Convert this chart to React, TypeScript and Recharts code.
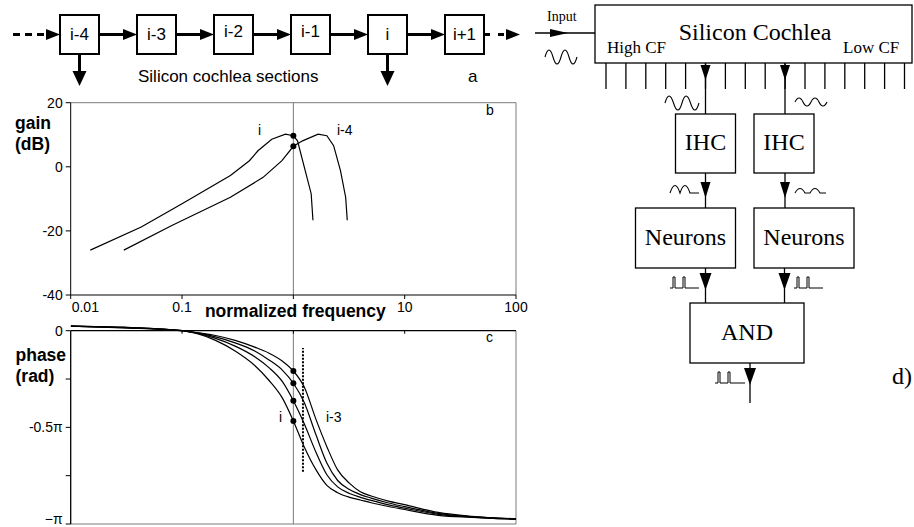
import React from 'react';
import { LineChart, Line, XAxis, YAxis, ReferenceLine } from 'recharts';

const SANS = '"Liberation Sans", Arial, sans-serif';
const SERIF = '"Liberation Serif", "Times New Roman", serif';
const GRID_GREY = '#7a7a7a';

// shared frequency axis (normalized, log)
const FREQ_TICKS = [0.01, 0.1, 1, 10, 100];
const FREQ_LABELS = ['0.01', '0.1', 'normalized frequency', '10', '100'];

// panel b: gain (dB)
const GAIN_TICKS = [-40, -20, 0, 20];
const gainIFreq = [0.015, 0.043, 0.1, 0.272, 0.403, 0.481, 0.64, 0.849, 1, 1.09, 1.256, 1.446, 1.5];
const gainIDb = [-26, -18.8, -11.5, -2.7, 1.9, 5, 8.6, 10.2, 9.7, 8.1, -0.2, -8.4, -16.7];
const gainI4Freq = [0.03, 0.081, 0.272, 0.535, 0.79, 1, 1.21, 1.67, 2.0, 2.3, 2.65, 2.95, 3.05];
const gainI4Db = [-26, -18.3, -9.5, -3.3, 1.9, 6.4, 8.1, 10.2, 9.7, 6.6, -1.2, -9.5, -16.7];

// panel c: phase, in units of pi
const PHASE_TICKS = [-1, -0.75, -0.5, -0.25, 0];
const PHASE_LABELS = ['\u2212\u03c0', '', '-0.5\u03c0', '', '0'];
const phaseFreq = [0.01, 0.03, 0.1, 0.2, 0.3, 0.45, 0.6, 0.8, 1, 1.25, 1.6, 2, 2.5, 3.2, 4, 5, 7, 10, 20, 40, 100];
const phaseI = [0.024, 0.015, 0, -0.05, -0.105, -0.18, -0.255, -0.35, -0.467, -0.6, -0.72, -0.8, -0.838, -0.862, -0.876, -0.89, -0.908, -0.925, -0.955, -0.966, -0.975];
const phaseI1 = [0.024, 0.016, 0, -0.04, -0.08, -0.135, -0.19, -0.265, -0.362, -0.48, -0.63, -0.745, -0.808, -0.842, -0.862, -0.878, -0.9, -0.918, -0.95, -0.964, -0.975];
const phaseI2 = [0.024, 0.017, 0, -0.032, -0.063, -0.105, -0.15, -0.205, -0.272, -0.37, -0.54, -0.685, -0.775, -0.822, -0.848, -0.866, -0.89, -0.91, -0.945, -0.962, -0.974];
const phaseI3 = [0.024, 0.018, 0, -0.025, -0.05, -0.085, -0.115, -0.158, -0.2085, -0.29, -0.46, -0.6, -0.72, -0.79, -0.833, -0.855, -0.88, -0.9, -0.94, -0.96, -0.973];
const PHASE_KEYS = ['i', 'i1', 'i2', 'i3'];

// dotted marker line in panel c
const MARK_FREQ = 1.22;
const MARK_RANGE = [-0.73, -0.09];

const gainI = gainIFreq.map((f, k) => ({ f, g: gainIDb[k] }));
const gainI4 = gainI4Freq.map((f, k) => ({ f, g: gainI4Db[k] }));
const phaseRows = phaseFreq.map((f, k) => ({ f, i: phaseI[k], i1: phaseI1[k], i2: phaseI2[k], i3: phaseI3[k] }));

const dotAtOne = (props: any) => {
  const { cx, cy, payload, index } = props;
  if (payload.f !== 1) return <g key={index} />;
  return <circle key={index} cx={cx} cy={cy} r={3} fill="#000" />;
};

const FreqTick = (props: any) => {
  const { x, y, index } = props;
  const label = FREQ_LABELS[index];
  if (index === 2) {
    return (
      <text x={x + 2} y={y + 15.7} textAnchor="middle" fontFamily={SANS} fontWeight="bold" fontSize={17.5} fill="#000">
        {label}
      </text>
    );
  }
  return (
    <text x={index === 0 ? x + 1 : x} y={y + 10.7} textAnchor={index === 0 ? 'start' : 'middle'} fontFamily={SANS} fontSize={14} fill="#000">
      {label}
    </text>
  );
};

const PhaseTick = (props: any) => {
  const { x, y, payload } = props;
  const v = payload.value;
  // the bottom label sits just above the frame edge
  const shift = v === -1 ? -5 : 0;
  return (
    <text x={x} y={y + shift} dy="0.355em" textAnchor="end" fontFamily={SANS} fontSize={14} fill="#000">
      {PHASE_LABELS[PHASE_TICKS.indexOf(v)]}
    </text>
  );
};

const HArrow = ({ x1, x2, y, dash }: { x1: number; x2: number; y: number; dash?: string }) => (
  <g>
    <line x1={x1} y1={y} x2={x2 - 13} y2={y} stroke="#000" strokeWidth={3} strokeDasharray={dash} />
    <polygon points={`${x2 - 14},${y - 5.5} ${x2},${y} ${x2 - 14},${y + 5.5}`} fill="#000" />
  </g>
);

const DArrow = ({ x, y1, y2, h1, h2, w = 5 }: { x: number; y1: number; y2: number; h1: number; h2: number; w?: number }) => (
  <g>
    <line x1={x} y1={y1} x2={x} y2={y2} stroke="#000" strokeWidth={1.3} />
    <polygon points={`${x - w},${h1} ${x + w},${h1} ${x},${h2}`} fill="#000" />
  </g>
);

const Box = ({ x, y, w, h, label, ty }: { x: number; y: number; w: number; h: number; label: string; ty: number }) => (
  <g>
    <rect x={x} y={y} width={w} height={h} fill="#fff" stroke="#000" strokeWidth={1.3} />
    <text x={x + w / 2} y={ty} textAnchor="middle" fontFamily={SERIF} fontSize={24}>{label}</text>
  </g>
);

const SECTIONS = ['i-4', 'i-3', 'i-2', 'i-1', 'i', 'i+1'];

function Diagrams() {
  const bx = (k: number) => 60 + k * 77;
  return (
    <svg width={914} height={527} style={{ position: 'absolute', left: 0, top: 0, pointerEvents: 'none' }}>
      {/* a: chain of cochlea sections */}
      <HArrow x1={13} x2={60} y={34.5} dash="7 5" />
      {SECTIONS.map((s, k) => (
        <g key={s}>
          <rect x={bx(k)} y={15} width={39} height={39} fill="#fff" stroke="#000" strokeWidth={2} />
          <text x={bx(k) + 19.5} y={k === 2 || k === 3 ? 37 : 40} textAnchor="middle" fontFamily={SANS} fontSize={17}>{s}</text>
          {k < SECTIONS.length - 1 && <HArrow x1={bx(k) + 39} x2={bx(k + 1)} y={34.5} />}
        </g>
      ))}
      <HArrow x1={484} x2={520} y={34.5} dash="6 8" />
      {[0, 4].map((k) => (
        <g key={k}>
          <line x1={bx(k) + 19.5} y1={54} x2={bx(k) + 19.5} y2={72} stroke="#000" strokeWidth={3} />
          <polygon points={`${bx(k) + 12.5},71 ${bx(k) + 26.5},71 ${bx(k) + 19.5},86`} fill="#000" />
        </g>
      ))}
      <text x={138} y={82} fontFamily={SANS} fontSize={17}>Silicon cochlea sections</text>
      <text x={468} y={82} fontFamily={SANS} fontSize={17}>a</text>

      {/* panel annotations */}
      <text x={15} y={129} fontFamily={SANS} fontWeight="bold" fontSize={17.5}>gain</text>
      <text x={15} y={150} fontFamily={SANS} fontWeight="bold" fontSize={17.5}>(dB)</text>
      <text x={258} y={135} fontFamily={SANS} fontSize={14}>i</text>
      <text x={337} y={135} fontFamily={SANS} fontSize={14}>i-4</text>
      <text x={486} y={115} fontFamily={SANS} fontSize={14}>b</text>
      <text x={15.5} y={361} fontFamily={SANS} fontWeight="bold" fontSize={17.5}>phase</text>
      <text x={15.5} y={382} fontFamily={SANS} fontWeight="bold" fontSize={17.5}>(rad)</text>
      <text x={279} y={422} fontFamily={SANS} fontSize={14}>i</text>
      <text x={326} y={422} fontFamily={SANS} fontSize={14}>i-3</text>
      <text x={486} y={342} fontFamily={SANS} fontSize={14}>c</text>

      {/* d: block diagram */}
      <text x={547} y={21} fontFamily={SERIF} fontSize={14}>Input</text>
      <line x1={535} y1={33} x2={595} y2={33} stroke="#000" strokeWidth={1.3} />
      <polygon points="550,29 568,33 550,37" fill="#000" />
      <path d="M545,57 Q549,43 553,57 T561,57 T569,57 T577,57" fill="none" stroke="#000" strokeWidth={1.1} />
      <rect x={595} y={5} width={317} height={58} fill="#fff" stroke="#000" strokeWidth={1.3} />
      <text x={755} y={40} textAnchor="middle" fontFamily={SERIF} fontSize={24}>Silicon Cochlea</text>
      <text x={607} y={53} fontFamily={SERIF} fontSize={17}>High CF</text>
      <text x={843} y={53} fontFamily={SERIF} fontSize={17}>Low CF</text>
      {Array.from({ length: 16 }, (_, k) => (
        <line key={k} x1={606 + k * 19.9} y1={63} x2={606 + k * 19.9} y2={89} stroke="#000" strokeWidth={1.3} />
      ))}
      <DArrow x={705.5} y1={63} y2={114} h1={65} h2={80} />
      <DArrow x={785} y1={63} y2={114} h1={65} h2={80} />
      <path d="M665,103 Q669,89 673.5,103 T682,103 T690.5,103 T699,103" fill="none" stroke="#000" strokeWidth={1.1} />
      <path d="M795,102 Q799,94 803,102 T811,102 T819,102 T827,102" fill="none" stroke="#000" strokeWidth={1.1} />
      <Box x={675.5} y={114} w={60} h={59} label="IHC" ty={150} />
      <Box x={754} y={114} w={60} h={59} label="IHC" ty={150} />
      <DArrow x={705.5} y1={173} y2={208} h1={182} h2={198} />
      <DArrow x={785} y1={173} y2={208} h1={182} h2={198} />
      <path d="M670,193 Q675,178 680,193 Q685,178 690,193 L699,193" fill="none" stroke="#000" strokeWidth={1.1} />
      <path d="M795,193 Q800,184 805,193 L810,193 Q815,184 820,193 L826,193" fill="none" stroke="#000" strokeWidth={1.1} />
      <Box x={635.5} y={208} w={100} h={60} label="Neurons" ty={245} />
      <Box x={754} y={208} w={100} h={60} label="Neurons" ty={245} />
      <DArrow x={705.5} y1={268} y2={303} h1={273} h2={290} w={6} />
      <DArrow x={784.5} y1={268} y2={303} h1={273} h2={290} w={6} />
      <path d="M670,288 L673,288 L673,277 L675,277 L675,288 L683,288 L683,277 L685,277 L685,288 L699,288" fill="none" stroke="#000" strokeWidth={1} />
      <path d="M794,288 L797,288 L797,277 L799,277 L799,288 L807,288 L807,277 L809,277 L809,288 L823,288" fill="none" stroke="#000" strokeWidth={1} />
      <Box x={690} y={303} w={114} h={60} label="AND" ty={340} />
      <DArrow x={750} y1={363} y2={403} h1={368} h2={385} w={6} />
      <path d="M715,383 L718,383 L718,372 L720,372 L720,383 L728,383 L728,372 L730,372 L730,383 L745,383" fill="none" stroke="#000" strokeWidth={1} />
      <text x={892} y={384} fontFamily={SERIF} fontSize={24}>d)</text>
    </svg>
  );
}

export default function App() {
  return (
    <div style={{ position: 'absolute', left: 0, top: 0, width: 914, height: 527, background: '#fff', overflow: 'hidden' }}>
      {/* b: gain */}
      <div style={{ position: 'absolute', left: 0, top: 90 }}>
        <LineChart width={540} height={240} margin={{ top: 12.7, right: 24, bottom: 5, left: 0 }}>
          <XAxis type="number" dataKey="f" scale="log" domain={[0.01, 100]} allowDataOverflow ticks={FREQ_TICKS}
            tick={<FreqTick />} tickSize={4} height={30} stroke="#000" interval={0} />
          <YAxis type="number" domain={[-40, 20]} allowDataOverflow ticks={GAIN_TICKS} width={70.7} tickSize={5} tickMargin={3}
            stroke="#000" tick={{ fontSize: 14, fill: '#000', fontFamily: SANS }} interval={0} />
          <ReferenceLine y={20} stroke={GRID_GREY} />
          <ReferenceLine x={100} stroke={GRID_GREY} />
          <ReferenceLine x={1} stroke={GRID_GREY} />
          <Line data={gainI} dataKey="g" type="linear" stroke="#000" strokeWidth={1.2} dot={dotAtOne} activeDot={false} isAnimationActive={false} />
          <Line data={gainI4} dataKey="g" type="linear" stroke="#000" strokeWidth={1.2} dot={dotAtOne} activeDot={false} isAnimationActive={false} />
        </LineChart>
      </div>

      {/* c: phase */}
      <div style={{ position: 'absolute', left: 0, top: 310 }}>
        <LineChart width={540} height={225} data={phaseRows} margin={{ top: 14.9, right: 24, bottom: 11, left: 0 }}>
          <XAxis type="number" dataKey="f" scale="log" domain={[0.01, 100]} allowDataOverflow hide />
          <YAxis type="number" domain={[-1, 0.03]} allowDataOverflow ticks={PHASE_TICKS} width={70.7} tickSize={5} tickMargin={3}
            axisLine={false} tickLine={{ stroke: '#000' }} tick={<PhaseTick />} interval={0} />
          <ReferenceLine y={-1} stroke={GRID_GREY} />
          <ReferenceLine segment={[{ x: 100, y: -1 }, { x: 100, y: 0 }]} stroke={GRID_GREY} />
          <ReferenceLine segment={[{ x: 1, y: -1 }, { x: 1, y: 0 }]} stroke={GRID_GREY} />
          <ReferenceLine y={0} stroke="#000" strokeWidth={1.3} />
          <ReferenceLine segment={[{ x: 0.01, y: -1 }, { x: 0.01, y: 0 }]} stroke="#000" strokeWidth={1.3} />
          {FREQ_TICKS.slice(1, 4).map((f) => (
            <ReferenceLine key={f} segment={[{ x: f, y: 0 }, { x: f, y: -0.016 }]} stroke="#000" />
          ))}
          <ReferenceLine segment={[{ x: MARK_FREQ, y: MARK_RANGE[0] }, { x: MARK_FREQ, y: MARK_RANGE[1] }]}
            stroke="#000" strokeWidth={2} strokeDasharray="2 1.5" />
          {PHASE_KEYS.map((k) => (
            <Line key={k} dataKey={k} type="monotone" stroke="#000" strokeWidth={1.2} dot={dotAtOne} activeDot={false} isAnimationActive={false} />
          ))}
        </LineChart>
      </div>

      <Diagrams />
    </div>
  );
}
